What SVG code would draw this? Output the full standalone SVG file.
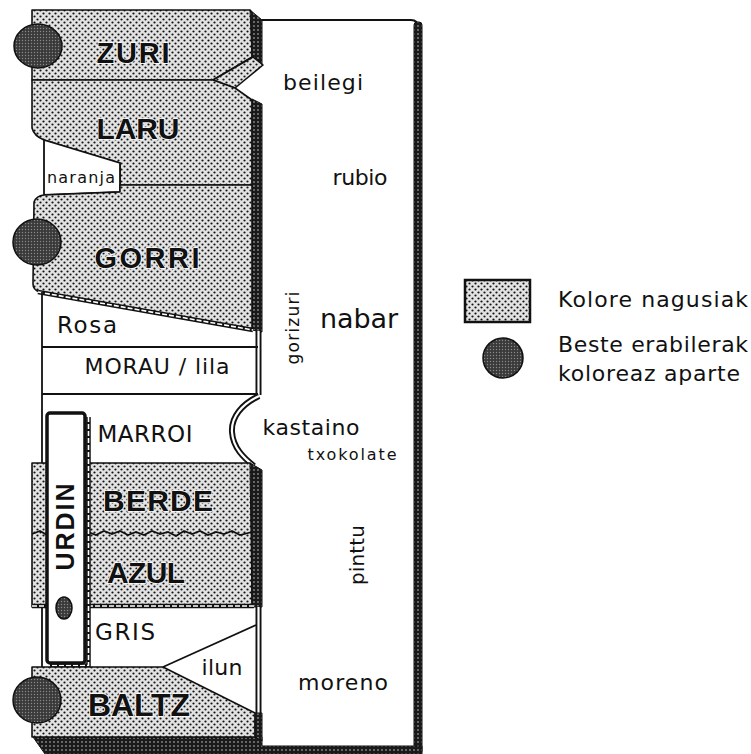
<svg xmlns="http://www.w3.org/2000/svg" width="751" height="754" viewBox="0 0 751 754">
<defs>
<pattern id="dots" width="6" height="6" patternUnits="userSpaceOnUse">
<rect width="6" height="6" fill="#e2e2e2"/>
<circle cx="1.5" cy="1.5" r="1.1" fill="#111"/>
<circle cx="4.5" cy="4.5" r="1.1" fill="#111"/>
</pattern>
<pattern id="dark" width="4" height="4" patternUnits="userSpaceOnUse">
<rect width="4" height="4" fill="#1a1a1a"/>
<circle cx="2" cy="2" r="0.9" fill="#8a8a8a"/>
</pattern>
<pattern id="ball" width="3" height="3" patternUnits="userSpaceOnUse">
<rect width="3" height="3" fill="#3a3a3a"/>
<circle cx="1.5" cy="1.5" r="0.7" fill="#8a8a8a"/>
</pattern>
</defs>
<style>
.blk{fill:url(#dots);stroke:#111;stroke-width:1.6;stroke-linejoin:round}
.shd{fill:url(#dark);stroke:#111;stroke-width:1}
.ln{fill:none;stroke:#111;stroke-width:1.8}
.dblo{fill:none;stroke:#111;stroke-width:6}
.dbli{fill:none;stroke:#fff;stroke-width:2.2}
.dsho{fill:none;stroke:#111;stroke-width:4.5}
.dshi{fill:none;stroke:#fff;stroke-width:1.6;stroke-dasharray:5 2}
.ball{fill:url(#ball);stroke:#111;stroke-width:1.5}
.big{font-family:"Liberation Sans",Arial,sans-serif;font-weight:bold;fill:#111;stroke:#fff;stroke-width:1.5;paint-order:stroke;text-anchor:middle}
.lbl{font-family:"DejaVu Sans","Liberation Sans",sans-serif;fill:#111;text-anchor:middle}
.leg{font-family:"DejaVu Sans","Liberation Sans",sans-serif;fill:#111;font-size:22px}
</style>
<rect width="751" height="754" fill="#fff"/>

<g id="panel">
<path class="ln" d="M262,20 H411 Q418,20 418,27"/>
<rect class="shd" x="414" y="22" width="8" height="732" rx="3"/>
<polygon class="shd" points="33,737 262,737 262,746 422,746 422,754 45,754"/>
<text class="lbl" x="323" y="90" font-size="22" textLength="80">beilegi</text>
<text class="lbl" x="360" y="185" font-size="22" textLength="55">rubio</text>
<text class="lbl" x="359" y="328" font-size="27" textLength="78">nabar</text>
<text class="lbl" transform="translate(299,328) rotate(-90)" font-size="17" textLength="73">gorizuri</text>
<text class="lbl" x="311" y="435" font-size="22" textLength="97">kastaino</text>
<text class="lbl" x="352" y="460" font-size="16" textLength="89">txokolate</text>
<text class="lbl" transform="translate(364,555) rotate(-90)" font-size="20" textLength="60">pinttu</text>
<text class="lbl" x="343" y="690" font-size="22" textLength="90">moreno</text>
</g>

<g id="zuri">
<path class="blk" d="M32,10 H250 L252,13 V57 L213,80 H32 Z"/>
<polygon class="shd" points="250,10 262,20 262,65 252,58"/>
<polygon class="blk" points="213,80 253,57 263,65 235,88"/>
<ellipse class="ball" cx="38" cy="46" rx="24" ry="22"/>
<text class="big" x="133" y="63" font-size="29" textLength="73">ZURI</text>
</g>

<g id="laru">
<path class="blk" d="M32,80 H213 L235,88 L252,100 V185 H120 V163 L44,140 Q34,136 32,128 Z"/>
<polygon class="shd" points="252,99 262,104 262,332 252,330"/>
<text class="big" x="138" y="139" font-size="30" textLength="83">LARU</text>
</g>

<g id="naranja">
<path d="M44,140 L120,163 V192 L44,195 Z" fill="#fff" stroke="#111" stroke-width="1.8" stroke-linejoin="round"/>
<text class="lbl" x="81" y="183" font-size="16" textLength="68">naranja</text>
</g>

<g id="gorri">
<path class="blk" d="M34,202 Q36,196 44,195 L120,192 V185 H252 V330 L40,292 Q33,290 33,284 Z"/>
<path class="dsho" d="M38,292 L253,330"/>
<path class="dshi" d="M38,292 L253,330"/>
<ellipse class="ball" cx="37" cy="242" rx="24" ry="23"/>
<text class="big" x="147" y="268" font-size="29" textLength="105">GORRI</text>
</g>

<g id="rosa">
<path class="ln" d="M42,292 V667"/>
<path class="dblo" d="M258.5,331 V395"/>
<path class="dbli" d="M258.5,331 V395"/>
<text class="lbl" x="87" y="333" font-size="23" textLength="60">Rosa</text>
</g>

<g id="morau">
<path class="ln" d="M42,347 H258 M42,394 H258"/>
<text class="lbl" x="157" y="374" font-size="22" textLength="145">MORAU / lila</text>
</g>

<g id="marroi">
<path class="dblo" d="M259,396 C242,404 231,417 232,432 C233,448 244,458 254,466"/>
<path class="dbli" d="M259,396 C242,404 231,417 232,432 C233,448 244,458 254,466"/>
<text class="lbl" x="145" y="442" font-size="23" textLength="95">MARROI</text>
</g>

<g id="berde-azul">
<path class="blk" d="M32,463 H250 L252,466 V607 H32 Z"/>
<polygon class="shd" points="250,463 262,470 262,607 252,607"/>
<path class="ln" d="M32,534 L40,531 L47,535 L55,532 L62,536 L70,531 L78,534 L88,532 L96,535 L104,531 L112,534 L120,531 L128,535 L136,532 L144,535 L152,531 L160,534 L168,532 L176,536 L184,531 L192,534 L200,531 L208,535 L216,532 L224,534 L232,531 L240,535 L252,532"/>
<path class="dsho" d="M32,606 H254"/>
<path class="dshi" d="M32,606 H254"/>
<text class="big" x="158" y="511" font-size="30" textLength="110">BERDE</text>
<text class="big" x="146" y="583" font-size="30" textLength="78">AZUL</text>
</g>

<g id="gris">
<path class="dblo" d="M258.5,607 V714"/>
<path class="dbli" d="M258.5,607 V714"/>
<path class="ln" d="M163,667 L256,625"/>
<text class="lbl" x="125" y="640" font-size="23" textLength="60">GRIS</text>
<text class="lbl" x="222" y="675" font-size="22" textLength="41">ilun</text>
</g>

<g id="urdin">
<path class="dsho" d="M88.5,417 V665.5 H50"/>
<path class="dshi" d="M88.5,417 V665.5 H50"/>
<rect x="47" y="413" width="38" height="250" rx="3" fill="#fff" stroke="#111" stroke-width="3.5"/>
<ellipse class="ball" cx="64" cy="608" rx="8" ry="11"/>
<text class="big" transform="translate(74,527) rotate(-90)" font-size="25" textLength="87">URDIN</text>
</g>

<g id="baltz">
<path class="blk" d="M32,667 H163 L255,713 V737 H32 Z"/>
<polygon class="shd" points="255,713 262,713 262,741 255,737"/>
<ellipse class="ball" cx="37" cy="700" rx="24" ry="23"/>
<text class="big" x="139" y="716" font-size="32" textLength="102">BALTZ</text>
</g>

<g id="connectors"></g>

<g id="legend">
<rect x="465" y="280" width="65" height="42" fill="url(#dots)" stroke="#111" stroke-width="2.5"/>
<text class="leg" x="558" y="307" textLength="190">Kolore nagusiak</text>
<circle class="ball" cx="503" cy="358" r="20"/>
<text class="leg" x="558" y="352" textLength="190">Beste erabilerak</text>
<text class="leg" x="558" y="381" textLength="182">koloreaz aparte</text>
</g>
</svg>
